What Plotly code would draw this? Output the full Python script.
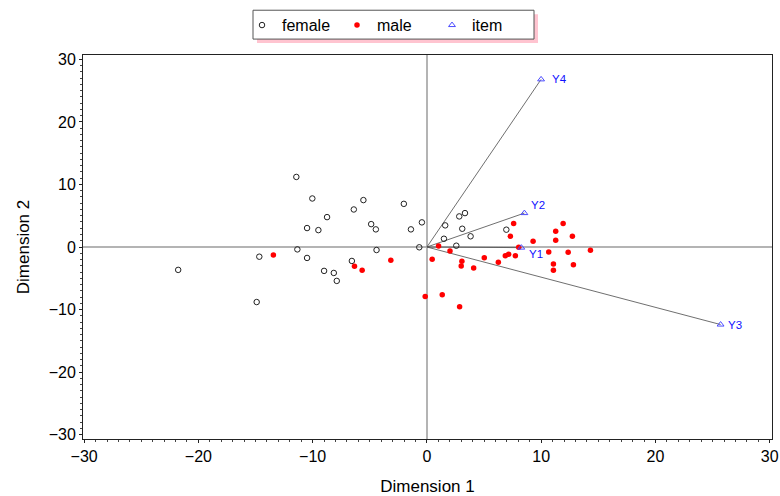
import plotly.graph_objects as go

# ---------------- data ----------------
female_x = [-11.43, -10.03, -5.56, -2.02, -6.40, -8.74, -0.44, -4.88, -10.49, -9.50,
            -4.47, -1.40, -11.34, -4.41, -0.67, -14.67, -10.49, -6.57, -9.00, -8.15,
            -7.89, -14.90, -21.77, 2.83, 3.33, 1.60, 3.09, 3.82, 1.49, 2.57, 6.95]
female_y = [11.2, 7.76, 7.5, 6.9, 6.0, 4.78, 3.94, 3.66, 3.03, 2.7,
            2.82, 2.82, -0.38, -0.48, -0.05, -1.55, -1.75, -2.23, -3.82, -4.15,
            -5.42, -8.8, -3.66, 4.89, 5.42, 3.46, 2.92, 1.71, 1.32, 0.21, 2.77]

male_x = [-13.44, -6.34, -5.67, -3.16, 0.46, -0.15, 1.02, 7.59, 11.92, 11.27,
          12.73, 7.30, 9.29, 11.27, 8.03, 2.02, 3.06, 3.00, 4.09, 5.02,
          6.25, 6.86, 7.15, 7.74, 10.66, 12.36, 14.31, 11.07, 11.07, 12.82,
          1.34, 2.86]
male_y = [-1.27, -3.08, -3.72, -2.13, -1.96, -7.92, 0.15, 3.77, 3.77, 2.5,
          1.71, 1.71, 0.9, 1.07, -0.05, -0.64, -2.28, -3.03, -3.35, -1.70,
          -2.44, -1.38, -1.17, -1.38, -0.79, -0.85, -0.53, -2.71, -3.72, -2.82,
          -7.65, -9.56]

item_labels = ["Y1", "Y2", "Y3", "Y4"]
item_x = [8.26, 8.53, 25.7, 9.99]
item_y = [-0.1, 5.42, -12.4, 26.8]

x_ticks = [-30, -20, -10, 0, 10, 20, 30]
y_ticks = [-30, -20, -10, 0, 10, 20, 30]

# label offsets (pixels) for the item labels
label_shift = {"Y1": (6, -6), "Y2": (5, 8), "Y3": (5, 0), "Y4": (9, 0)}

# ---------------- layout geometry ----------------
W, H = 780, 496
ML, MR, MT, MB = 83, 8, 53, 57
PW, PH = W - ML - MR, H - MT - MB
FONT = "Liberation Sans, Arial, sans-serif"


def px_x(p):
    return (p - ML) / PW


def px_y(p):
    return (H - MB - p) / PH


fig = go.Figure()

# vectors from origin to each item
for lx, ly in zip(item_x, item_y):
    fig.add_trace(go.Scatter(x=[0, lx], y=[0, ly], mode="lines",
                             line=dict(color="#4a4a4a", width=0.8),
                             showlegend=False, hoverinfo="skip"))

fig.add_trace(go.Scatter(x=female_x, y=female_y, mode="markers", name="female",
                         marker=dict(symbol="circle-open", size=5.5, color="#222222",
                                     line=dict(width=1))))
fig.add_trace(go.Scatter(x=male_x, y=male_y, mode="markers", name="male",
                         marker=dict(symbol="circle", size=5.5, color="#ff0000")))
fig.add_trace(go.Scatter(x=item_x, y=item_y, mode="markers", name="item",
                         marker=dict(symbol="triangle-up-open", size=6, color="#4b4bff",
                                     line=dict(width=1))))

annotations = []
for lab, lx, ly in zip(item_labels, item_x, item_y):
    dx, dy = label_shift[lab]
    annotations.append(dict(x=lx, y=ly, xref="x", yref="y", text=lab, showarrow=False,
                            xanchor="left", yanchor="middle", xshift=dx, yshift=dy,
                            font=dict(family=FONT, size=11.5, color="#1010ff")))

axis_common = dict(
    showgrid=False, showline=True, linecolor="#222222", linewidth=1, mirror=True,
    ticks="outside", ticklen=3, tickcolor="#222222", automargin=False,
    zeroline=True, zerolinecolor="#b4b4b4", zerolinewidth=2,
    tickfont=dict(family=FONT, size=16, color="black"),
    minor=dict(dtick=1, ticks="outside", ticklen=2, tickcolor="#444444"),
)

fig.update_layout(
    width=W, height=H,
    margin=dict(l=ML, r=MR, t=MT, b=MB, pad=0),
    paper_bgcolor="white", plot_bgcolor="white",
    font=dict(family=FONT, size=16, color="black"),
    xaxis=dict(range=[-30.1, 30.2], tickvals=x_ticks,
               title=dict(text="Dimension 1", font=dict(size=17), standoff=15),
               **axis_common),
    yaxis=dict(range=[-30.7, 30.7], tickvals=y_ticks,
               title=dict(text="Dimension 2", font=dict(size=17), standoff=14),
               **axis_common),
    showlegend=True,
    legend=dict(orientation="h", x=px_x(242), xanchor="left",
                y=px_y(23), yanchor="middle", entrywidth=50,
                bgcolor="rgba(0,0,0,0)", borderwidth=0,
                font=dict(family=FONT, size=16, color="black")),
    annotations=annotations,
    shapes=[
        dict(type="rect", xref="paper", yref="paper",
             x0=px_x(257), x1=px_x(538), y0=px_y(41), y1=px_y(12),
             fillcolor="#ffc4d0", line=dict(width=0), layer="above"),
        dict(type="rect", xref="paper", yref="paper",
             x0=px_x(253), x1=px_x(534), y0=px_y(37), y1=px_y(8),
             fillcolor="white", line=dict(color="#555555", width=1), layer="above"),
    ],
)

fig.write_html("out.html", config={"displayModeBar": False},
               post_script="document.body.style.margin='0';")
